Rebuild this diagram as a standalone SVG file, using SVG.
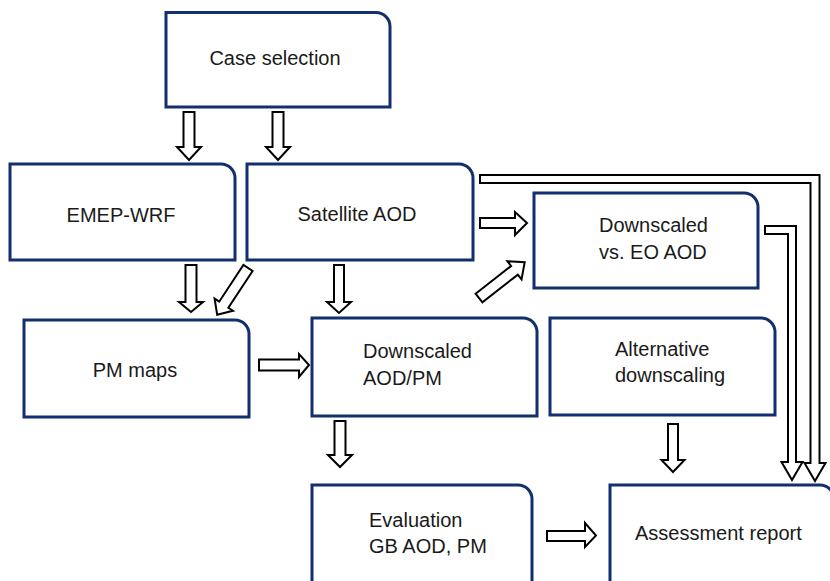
<svg xmlns="http://www.w3.org/2000/svg" width="830" height="581" viewBox="0 0 830 581">
<style>
.box{fill:#fff;stroke:#132f6e;stroke-width:3}
.arr{fill:#fff;stroke:#000;stroke-width:2;stroke-linejoin:miter}
text{font-family:"Liberation Sans",Arial,sans-serif;font-size:20px;fill:#1a1a1a}
.c{text-anchor:middle}
</style>
<rect width="830" height="581" fill="#fff"/>
<g id="case-selection">
<path class="box" d="M166,12.5 H376 A14,14 0 0 1 390,26.5 V107 H166 Z"/>
<text class="c" x="275" y="65">Case selection</text>
</g>
<g id="emep-wrf">
<path class="box" d="M10,164 H221 A14,14 0 0 1 235,178 V260 H10 Z"/>
<text class="c" x="121" y="222">EMEP-WRF</text>
</g>
<g id="satellite-aod">
<path class="box" d="M247,164 H459 A14,14 0 0 1 473,178 V260 H247 Z"/>
<text class="c" x="357" y="221">Satellite AOD</text>
</g>
<g id="downscaled-vs-eo">
<path class="box" d="M534,193 H744 A14,14 0 0 1 758,207 V288 H534 Z"/>
<text x="599" y="232">Downscaled</text>
<text x="599" y="259">vs. EO AOD</text>
</g>
<g id="pm-maps">
<path class="box" d="M24,320 H235 A14,14 0 0 1 249,334 V417 H24 Z"/>
<text class="c" x="135" y="377">PM maps</text>
</g>
<g id="downscaled-aod-pm">
<path class="box" d="M312,318 H523 A14,14 0 0 1 537,332 V416 H312 Z"/>
<text x="363" y="358">Downscaled</text>
<text x="363" y="385">AOD/PM</text>
</g>
<g id="alternative-downscaling">
<path class="box" d="M550,318 H761 A14,14 0 0 1 775,332 V415 H550 Z"/>
<text x="615" y="356">Alternative</text>
<text x="615" y="382">downscaling</text>
</g>
<g id="evaluation">
<path class="box" d="M312,485 H518 A14,14 0 0 1 532,499 V590 H312 Z"/>
<text x="369" y="527">Evaluation</text>
<text x="369" y="553">GB AOD, PM</text>
</g>
<g id="assessment-report">
<path class="box" d="M610,485 H820 A14,14 0 0 1 834,499 V590 H610 Z"/>
<text x="635" y="540">Assessment report</text>
</g>
<g id="connectors">
<polygon class="arr" points="183.5,112 194.5,112 194.5,147 201,147 189,160 177,147 183.5,147"/>
<polygon class="arr" points="272.5,112 283.5,112 283.5,147 290,147 278,160 266,147 272.5,147"/>
<polygon class="arr" points="185.5,265 196.5,265 196.5,302 203,302 191,312 179,302 185.5,302"/>
<polygon class="arr" points="334,265 344,265 344,302 351,302 339,313 327,302 334,302"/>
<polygon class="arr" points="334.5,421 345.5,421 345.5,455 352,455 340,467 328,455 334.5,455"/>
<polygon class="arr" points="668,424 678,424 678,460 684.5,460 673,472 661.5,460 668,460"/>
<polygon class="arr" points="480,218 515,218 515,212 527,223 515,235 515,228 480,228"/>
<polygon class="arr" points="259,359.5 299,359.5 299,354 309,365 299,377 299,370.5 259,370.5"/>
<polygon class="arr" points="547,531 585,531 585,523 596,535.5 585,547 585,541 547,541"/>
<polygon class="arr" transform="translate(248,268) rotate(123.4)" points="0,-5.5 44,-5.5 44,-11 56,0 44,11 44,5.5 0,5.5"/>
<polygon class="arr" transform="translate(479,298) rotate(-38)" points="0,-5.5 45,-5.5 45,-11.5 58,0 45,11.5 45,5.5 0,5.5"/>
<polygon class="arr" points="480,175 819.5,175 819.5,463 825.5,463 815,481 804.5,463 810.5,463 810.5,183 480,183"/>
<polygon class="arr" points="765,226 796,226 796,462 802.5,462 792,480 781.5,462 788,462 788,234 765,234"/>
</g>
</svg>
